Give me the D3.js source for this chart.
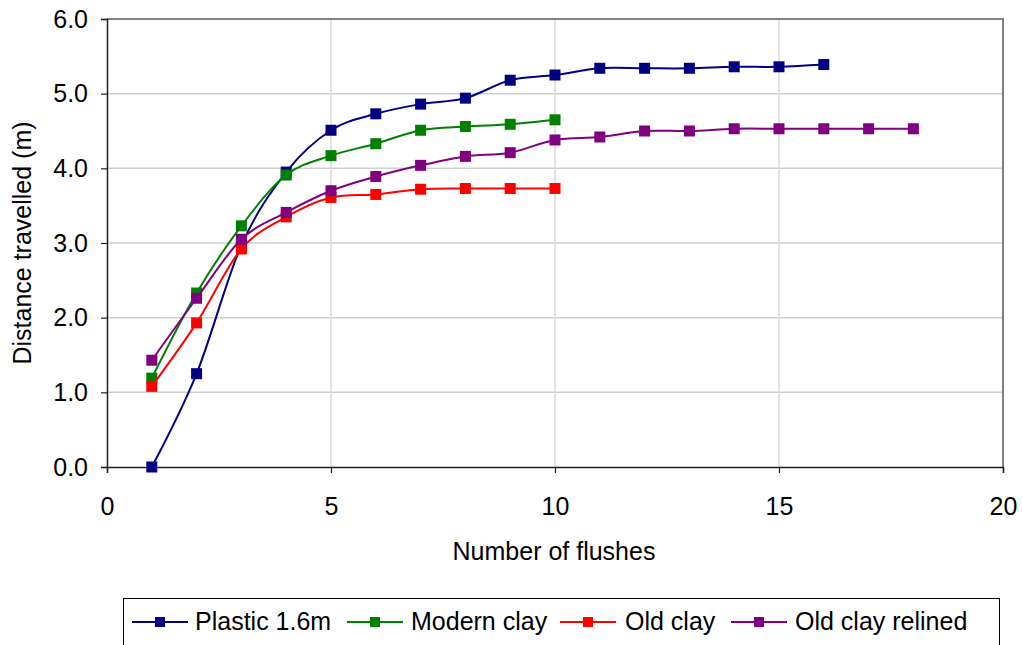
<!DOCTYPE html>
<html>
<head>
<meta charset="utf-8">
<script src="https://cdn.jsdelivr.net/npm/d3@7"></script>
<style>
  body { margin: 0; background: #fff; }
  text { font-family: "Liberation Sans", Arial, sans-serif; fill: #000; }
</style>
</head>
<body>
<div id="root"></div>
<script>
const flushes = d3.range(1, 19);
const plastic = [0.00, 1.25, 2.97, 3.95, 4.51, 4.73, 4.86, 4.94, 5.18, 5.25, 5.34, 5.34, 5.34, 5.36, 5.36, 5.39];
const modernClay = [1.19, 2.33, 3.23, 3.91, 4.17, 4.33, 4.51, 4.56, 4.59, 4.65];
const oldClay = [1.08, 1.93, 2.92, 3.35, 3.61, 3.65, 3.72, 3.73, 3.73, 3.73];
const oldClayRelined = [1.43, 2.26, 3.05, 3.41, 3.70, 3.89, 4.04, 4.16, 4.21, 4.38, 4.42, 4.50, 4.50, 4.53, 4.53, 4.53, 4.53, 4.53];
const xTicks = [0, 5, 10, 15, 20];
const yTicks = [0, 1, 2, 3, 4, 5, 6];

const seriesList = [
  { name: "Plastic 1.6m", values: plastic, color: "#000080" },
  { name: "Modern clay", values: modernClay, color: "#008000" },
  { name: "Old clay", values: oldClay, color: "#ff0000" },
  { name: "Old clay relined", values: oldClayRelined, color: "#800080" }
];

const width = 1023, height = 645;
const plot = { left: 107, right: 1003, top: 19, bottom: 467 };
const fontSize = "25px";

const svg = d3.select("#root").append("svg")
  .attr("width", width)
  .attr("height", height);

const x = d3.scaleLinear().domain([0, 20]).range([plot.left, plot.right]);
const y = d3.scaleLinear().domain([0, 6]).range([plot.bottom, plot.top]);

// gridlines
svg.append("g").selectAll("line")
  .data(yTicks.slice(1))
  .enter().append("line")
  .attr("x1", plot.left).attr("x2", plot.right)
  .attr("y1", d => y(d)).attr("y2", d => y(d))
  .attr("stroke", "#d0d0d0").attr("stroke-width", 1.5);

svg.append("g").selectAll("line")
  .data(xTicks.slice(1, -1))
  .enter().append("line")
  .attr("x1", d => x(d)).attr("x2", d => x(d))
  .attr("y1", plot.top).attr("y2", plot.bottom)
  .attr("stroke", "#d8d8d8").attr("stroke-width", 1.5);

// plot border (top, right)
svg.append("path")
  .attr("d", `M${plot.left},${plot.top}H${plot.right}V${plot.bottom}`)
  .attr("fill", "none")
  .attr("stroke", "#808080")
  .attr("stroke-width", 2);

// axes
const xAxis = svg.append("g")
  .attr("transform", `translate(0,${plot.bottom})`)
  .call(d3.axisBottom(x).tickValues(xTicks).tickSize(6).tickPadding(24).tickFormat(d3.format("d")));
const yAxis = svg.append("g")
  .attr("transform", `translate(${plot.left},0)`)
  .call(d3.axisLeft(y).tickValues(yTicks).tickSize(6).tickPadding(13).tickFormat(d3.format(".1f")));

[xAxis, yAxis].forEach(ax => {
  ax.select(".domain").attr("stroke", "#202020").attr("stroke-width", 1.5);
  ax.selectAll(".tick line").attr("stroke", "#202020").attr("stroke-width", 1.2);
  ax.selectAll("text")
    .style("font-family", "'Liberation Sans', Arial, sans-serif")
    .style("font-size", fontSize)
    .attr("fill", "#000");
});

// axis titles
svg.append("text")
  .text("Number of flushes")
  .attr("x", 554)
  .attr("y", 560)
  .attr("text-anchor", "middle")
  .style("font-size", fontSize);

svg.append("text")
  .text("Distance travelled (m)")
  .attr("transform", `translate(31,${(plot.top + plot.bottom) / 2}) rotate(-90)`)
  .attr("text-anchor", "middle")
  .style("font-size", fontSize);

// lines and markers
const line = d3.line()
  .x((d, i) => x(flushes[i]))
  .y(d => y(d))
  .curve(d3.curveCardinal.tension(0));

seriesList.forEach(s => {
  const g = svg.append("g");
  g.append("path")
    .datum(s.values)
    .attr("d", line)
    .attr("fill", "none")
    .attr("stroke", s.color)
    .attr("stroke-width", 2);

  const m = 11;
  g.selectAll("rect")
    .data(s.values)
    .enter().append("rect")
    .attr("x", (d, i) => x(flushes[i]) - m / 2)
    .attr("y", d => y(d) - m / 2)
    .attr("width", m)
    .attr("height", m)
    .attr("fill", s.color);
});

// legend
const legendItems = [
  { lx: 132, tx: 195 },
  { lx: 347, tx: 411 },
  { lx: 560, tx: 625 },
  { lx: 731, tx: 795 }
];
const legendY = 622;

svg.append("rect")
  .attr("x", 123.5).attr("y", 598.5)
  .attr("width", 876).attr("height", 60)
  .attr("fill", "#fff")
  .attr("stroke", "#000")
  .attr("stroke-width", 1);

const legend = svg.append("g").selectAll("g")
  .data(seriesList)
  .enter().append("g");

legend.append("line")
  .attr("x1", (d, i) => legendItems[i].lx)
  .attr("x2", (d, i) => legendItems[i].lx + 56)
  .attr("y1", legendY).attr("y2", legendY)
  .attr("stroke", d => d.color)
  .attr("stroke-width", 2);

legend.append("rect")
  .attr("x", (d, i) => legendItems[i].lx + 28 - 5)
  .attr("y", legendY - 5)
  .attr("width", 10).attr("height", 10)
  .attr("fill", d => d.color);

legend.append("text")
  .text(d => d.name)
  .attr("x", (d, i) => legendItems[i].tx)
  .attr("y", 630)
  .style("font-size", fontSize);
</script>
</body>
</html>
